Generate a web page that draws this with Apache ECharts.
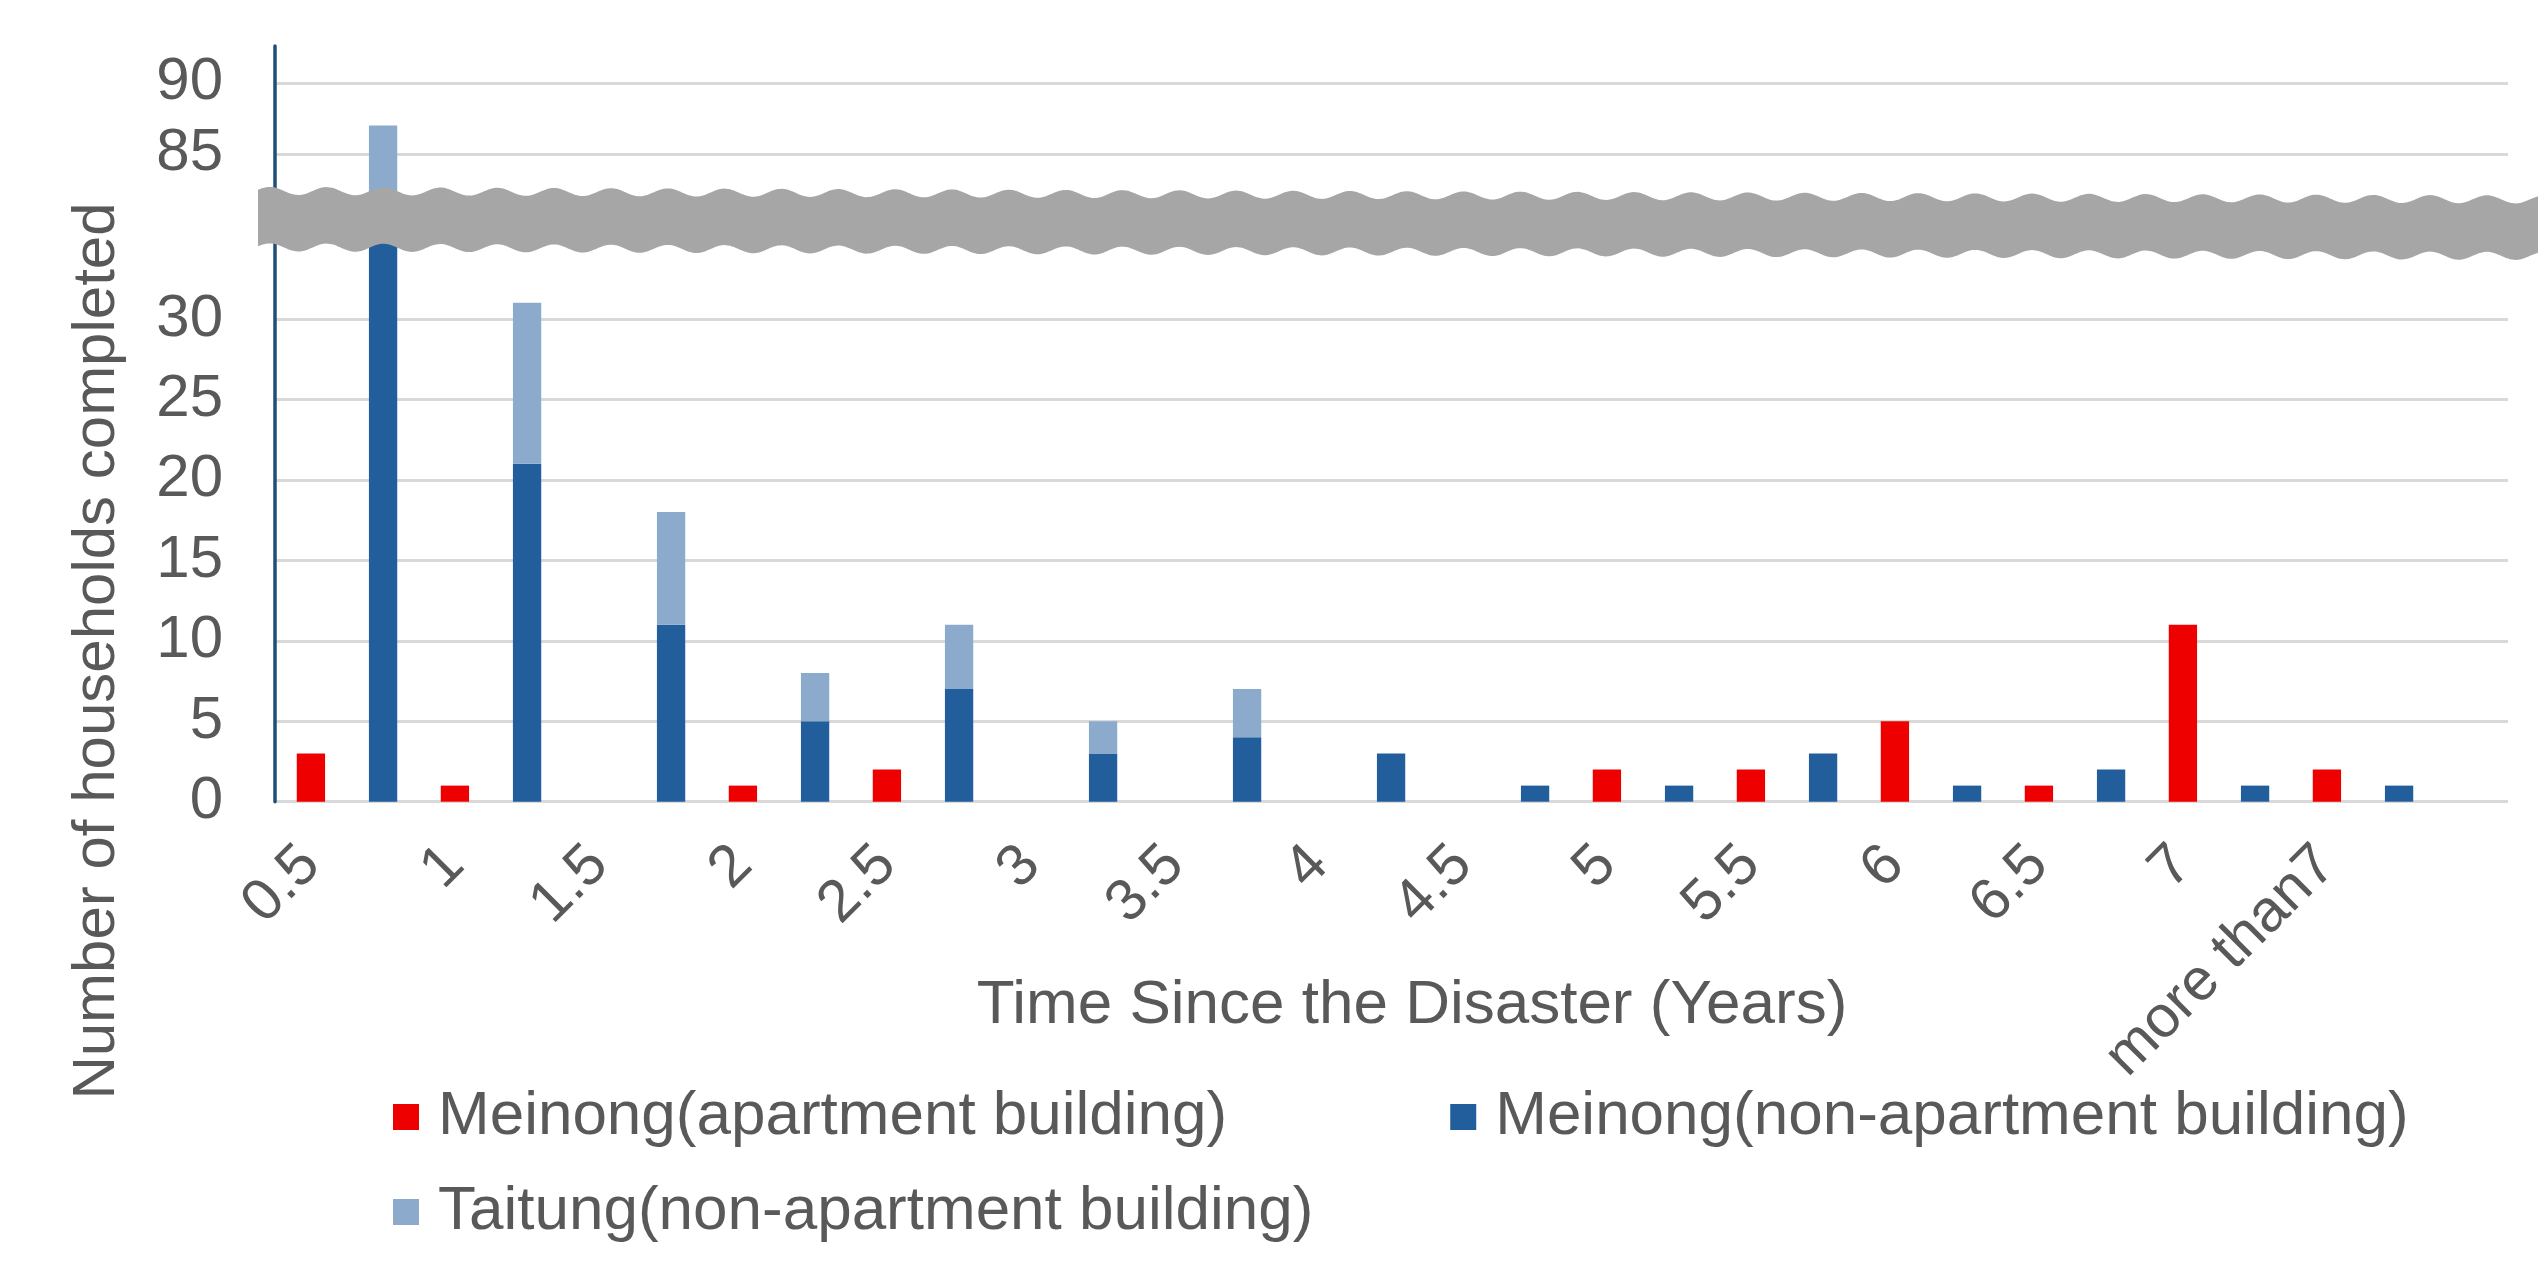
<!DOCTYPE html>
<html>
<head>
<meta charset="utf-8">
<script src="https://cdn.jsdelivr.net/npm/echarts@6/dist/echarts.min.js"></script>
<style>
  html, body { margin: 0; padding: 0; background: #ffffff; }
  #chart { width: 2538px; height: 1268px; }
</style>
</head>
<body>
<div id="chart"></div>
<script>
// ---- data ----
const categories = ['0.5', '1', '1.5', '2', '2.5', '3', '3.5', '4', '4.5', '5', '5.5', '6', '6.5', '7', 'more than7'];
const meinongApartment    = [3, 1, 0, 1, 2, 0, 0, 0, 0, 2, 2, 5, 1, 11, 2];
const meinongNonApartment = [80, 21, 11, 5, 7, 3, 4, 3, 1, 1, 3, 1, 2, 1, 1];
const taitungNonApartment = [7, 10, 7, 3, 4, 2, 3, 0, 0, 0, 0, 0, 0, 0, 0];
const upperTickLabels = [85, 90];
const lowerTickLabels = [0, 5, 10, 15, 20, 25, 30];

const seriesNames = ['Meinong(apartment building)', 'Meinong(non-apartment building)', 'Taitung(non-apartment building)'];

// ---- styles ----
const FONT_FAMILY = '"Liberation Sans", Arial, Helvetica, sans-serif';
const TEXT_COLOR = '#595959';
const GRID_COLOR = '#D9D9D9';
const AXIS_COLOR = '#1F4E79';
const RED = '#EE0000';
const DARK_BLUE = '#215E9B';
const LIGHT_BLUE = '#8CAACC';
const BREAK_GREY = '#A6A6A6';

// ---- layout (broken value axis: upper band 80–92.6, lower band 0–35) ----
const plotLeft = 275;
const plotRight = 2508;
const catWidth = 144;
const barsWidth = catWidth * categories.length;
const upper = { top: 46, bottom: 224.7, min: 80, max: 92.6 };
const lower = { top: 238.5, bottom: 801.7, min: 0, max: 35 };

function gridBox(left, width, band) {
  return { left: left, top: band.top, width: width, height: band.bottom - band.top,
           containLabel: false, outerBoundsMode: 'none' };
}

const hiddenCategory = (gi, data) => ({ gridIndex: gi, type: 'category', data: data, show: false });
const hiddenValue = (gi, band) => ({ gridIndex: gi, type: 'value', min: band.min, max: band.max, show: false });

function frameValueAxis(gi, band, labels) {
  return {
    gridIndex: gi, type: 'value', min: band.min, max: band.max, interval: 5,
    axisLine: { show: true, lineStyle: { color: AXIS_COLOR, width: 3.5 } },
    axisTick: { show: false },
    axisLabel: {
      margin: 52, fontSize: 60, color: TEXT_COLOR, fontFamily: FONT_FAMILY,
      showMinLabel: band.min === 0, showMaxLabel: false,
      formatter: v => (labels.indexOf(v) >= 0 ? String(v) : '')
    },
    splitLine: {
      show: true, showMinLine: band.min === 0, showMaxLine: false,
      lineStyle: { color: GRID_COLOR, width: 3 }
    }
  };
}

function barSeries(axisIndex) {
  const common = { type: 'bar', xAxisIndex: axisIndex, yAxisIndex: axisIndex,
                   barWidth: 28.3, barGap: '155%', clip: true, silent: true };
  return [
    Object.assign({}, common, { name: seriesNames[0], data: meinongApartment, itemStyle: { color: RED } }),
    Object.assign({}, common, { name: seriesNames[1], data: meinongNonApartment, stack: 'nonApt' + axisIndex, itemStyle: { color: DARK_BLUE } }),
    Object.assign({}, common, { name: seriesNames[2], data: taitungNonApartment, stack: 'nonApt' + axisIndex, itemStyle: { color: LIGHT_BLUE } })
  ];
}

// wavy grey strip marking the axis break
function breakStrip() {
  const x0 = 258, x1 = 2540, period = 56.85, amp = 4, peakX = 326.7, slope = 0.0038;
  const wave = x => -amp * Math.cos(2 * Math.PI * (x - peakX) / period);
  const pts = [];
  for (let x = x0; x <= x1; x += 2) pts.push([x, 191 + slope * (x - 300) + wave(x)]);
  for (let x = x1; x >= x0; x -= 2) pts.push([x, 247.5 + slope * (x - 300) + wave(x)]);
  return pts;
}

const legendText = { fontSize: 62, color: TEXT_COLOR, fontFamily: FONT_FAMILY, padding: [0, 0, 0, 14] };

const option = {
  backgroundColor: '#ffffff',
  animation: false,
  color: [RED, DARK_BLUE, LIGHT_BLUE],
  grid: [
    gridBox(plotLeft, plotRight - plotLeft, upper),        // 0: upper frame
    gridBox(plotLeft, barsWidth, upper),                   // 1: upper bars
    gridBox(plotLeft, plotRight - plotLeft, lower),        // 2: lower frame
    gridBox(plotLeft, barsWidth, lower),                   // 3: lower bars
    gridBox(plotLeft - catWidth / 4, barsWidth, lower)     // 4: category labels
  ],
  xAxis: [
    hiddenCategory(0, ['']),
    hiddenCategory(1, categories),
    hiddenCategory(2, ['']),
    hiddenCategory(3, categories),
    {
      gridIndex: 4, type: 'category', data: categories,
      axisLine: { show: false }, axisTick: { show: false }, splitLine: { show: false },
      axisLabel: { interval: 0, rotate: 45, margin: 54, fontSize: 59, color: TEXT_COLOR, fontFamily: FONT_FAMILY }
    }
  ],
  yAxis: [
    frameValueAxis(0, upper, upperTickLabels),
    hiddenValue(1, upper),
    frameValueAxis(2, lower, lowerTickLabels),
    hiddenValue(3, lower),
    hiddenValue(4, lower)
  ],
  legend: [
    { data: [seriesNames[0], seriesNames[1]], left: 388, top: 1081, orient: 'horizontal',
      icon: 'rect', itemWidth: 26, itemHeight: 26, itemGap: 223, selectedMode: false, textStyle: legendText },
    { data: [seriesNames[2]], left: 388, top: 1176, orient: 'horizontal',
      icon: 'rect', itemWidth: 26, itemHeight: 26, selectedMode: false, textStyle: legendText }
  ],
  series: barSeries(1).concat(barSeries(3)),
  graphic: [
    { type: 'polygon', z: 100, silent: true, shape: { points: breakStrip() }, style: { fill: BREAK_GREY } },
    { type: 'text', z: 100, x: 97, y: 651, rotation: Math.PI / 2,
      style: { text: 'Number of households completed', font: '60px ' + FONT_FAMILY, fill: TEXT_COLOR, align: 'center', verticalAlign: 'middle' } },
    { type: 'text', z: 100, x: 1412, y: 1006,
      style: { text: 'Time Since the Disaster (Years)', font: '62px ' + FONT_FAMILY, fill: TEXT_COLOR, align: 'center', verticalAlign: 'middle' } }
  ]
};

const chart = echarts.init(document.getElementById('chart'), null, { renderer: 'canvas' });
chart.setOption(option);
</script>
</body>
</html>
